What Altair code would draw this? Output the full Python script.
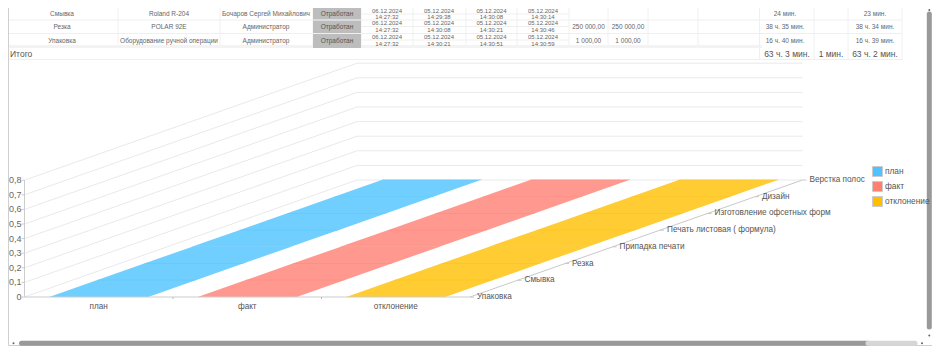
import altair as alt
import pandas as pd

# ---------- chart values ----------
series_names = ["план", "факт", "отклонение"]
series_fill = ["#4DC3FF", "#FF7F73", "#FFBF00"]
categories = ["Упаковка", "Смывка", "Резка", "Припадка печати",
              "Печать листовая ( формула)", "Изготовление офсетных форм",
              "Дизайн", "Верстка полос"]
plan_values = [0, 0, 0, 0, 0, 0, 0, 0]
fact_values = [0, 0, 0, 0, 0, 0, 0, 0]
dev_values = [0, 0, 0, 0, 0, 0, 0, 0]
value_ticks = [0, 0.1, 0.2, 0.3, 0.4, 0.5, 0.6, 0.7, 0.8]

# ---------- table values ----------
row_stage = ["Смывка", "Резка", "Упаковка"]
row_machine = ["Roland R-204", "POLAR 92E", "Оборудование ручной операции"]
row_person = ["Бочаров Сергей Михайлович", "Администратор", "Администратор"]
row_status = ["Отработан", "Отработан", "Отработан"]
date_1 = ["06.12.2024", "06.12.2024", "06.12.2024"]
time_1 = ["14:27:32", "14:27:32", "14:27:32"]
date_2 = ["05.12.2024", "05.12.2024", "05.12.2024"]
time_2 = ["14:29:38", "14:30:08", "14:30:21"]
date_3 = ["05.12.2024", "05.12.2024", "05.12.2024"]
time_3 = ["14:30:08", "14:30:21", "14:30:51"]
date_4 = ["05.12.2024", "05.12.2024", "05.12.2024"]
time_4 = ["14:30:14", "14:30:46", "14:30:59"]
money_1 = ["", "250 000,00", "1 000,00"]
money_2 = ["", "250 000,00", "1 000,00"]
plan_time = ["24 мин.", "38 ч. 35 мин.", "16 ч. 40 мин."]
fact_time = ["23 мин.", "38 ч. 34 мин.", "16 ч. 39 мин."]
total_label = "Итого"
total_plan, total_dev, total_fact = "63 ч. 3 мин.", "1 мин.", "63 ч. 2 мин."

FONT = "Liberation Sans"
W, H = 924, 338
ORIGIN_X, WALL_W, DEPTH_X, DEPTH_Y, VALUE_PX, BASE_Y = 24.5, 445.5, 332.5, 117, 146, 297


def project(fx, d, v=0.0):
    """Oblique projection of (share of width, share of depth, value)."""
    return ORIGIN_X + fx * WALL_W + d * DEPTH_X, BASE_Y - d * DEPTH_Y - v * VALUE_PX


X = alt.X("x:Q", scale=alt.Scale(domain=[8, 8 + W], range=[0, W]), axis=None)
Y = alt.Y("y:Q", scale=alt.Scale(domain=[8, 8 + H], range=[0, H]), axis=None)

# ---------- rules ----------
rules = []


def rule(x1, y1, x2, y2, c, w=1.0):
    rules.append(dict(x=x1, y=y1, x_end=x2, y_end=y2, c=c, w=w))


col_edges = [118, 220, 313, 361, 413, 466, 517, 569, 608, 648, 698, 759.5, 814, 848, 902]
for y_line in [20, 33.5, 59.5]:
    rule(8.5, y_line, 902, y_line, "#efefef")
rule(8.5, 46.5, 762, 46.5, "#f3f3f3", 3)
for ce in col_edges:
    rule(ce, 8, ce, 59.5 if ce >= 759 else 45, "#f0f0f0")
for y_line in [14, 26.5, 40]:
    rule(361, y_line, 569, y_line, "#efefef")

# frame
rule(8.5, 8, 8.5, 345.5, "#cfcfcf", 1)
rule(8.5, 345.5, 932, 345.5, "#cfcfcf", 1)

# walls
for v in value_ticks:
    a, b, c = project(0, 0, v), project(0, 1, v), project(1, 1, v)
    rule(*a, *b, "#e9e9e9")
    rule(*b, *c, "#e9e9e9")
    rule(a[0] - 3, a[1], a[0], a[1], "#cccccc")

rules_back = pd.DataFrame(rules)
rules = []

# axis lines
rule(*project(0, 0), *project(1, 0), "#cccccc")
rule(*project(1, 0), *project(1, 1), "#c8c8c8")
rule(*project(0, 0), *project(0, 0, 0.8), "#cccccc")
for f in [1 / 3, 2 / 3]:
    p = project(f, 0)
    rule(p[0], p[1], p[0], p[1] + 2, "#bbbbbb")
for k in range(8):
    p = project(1, k / 7)
    rule(p[0], p[1], p[0] + 4, p[1], "#c8c8c8")
rules_front = pd.DataFrame(rules)


def rule_layer(df):
    return alt.Chart(df).mark_rule().encode(
        x=X, y=Y, x2="x_end:Q", y2="y_end:Q",
        color=alt.Color("c:N", scale=None),
        strokeWidth=alt.StrokeWidth("w:Q", scale=None),
    )


# ---------- status cells ----------
status_rows = [(8, 19.5), (20.5, 33), (34, 48)]
status_df = pd.DataFrame([dict(x=313, x_end=361, y=a, y_end=b) for a, b in status_rows])
status_layer = alt.Chart(status_df).mark_rect(color="#bdbdbd").encode(x=X, x2="x_end:Q", y=Y, y2="y_end:Q")

# ---------- surfaces ----------
surf = []
all_values = [plan_values, fact_values, dev_values]
SLOT, GAP, BAR = 1 / 3, 24.7 / 445.5, 99 / 445.5
for si, name in enumerate(series_names):
    for k in range(len(categories) - 1):
        for d, val in [(k / 7, all_values[si][k]), ((k + 1) / 7 + 0.004, all_values[si][k + 1])]:
            xa, ya = project(si * SLOT + GAP, d, val)
            xb, _ = project(si * SLOT + GAP + BAR, d, val)
            surf.append(dict(series=name, seg=f"{si}-{k}", x=xa, x_end=xb, y=ya))
surf_df = pd.DataFrame(surf)
surf_layer = alt.Chart(surf_df).mark_area(orient="horizontal", opacity=0.8).encode(
    y=Y,
    x=alt.X("x:Q", scale=alt.Scale(domain=[8, 8 + W], range=[0, W]), axis=None, stack=None),
    x2="x_end:Q",
    detail="seg:N",
    color=alt.Color(
        "series:N",
        sort=series_names,
        scale=alt.Scale(domain=series_names, range=series_fill),
        legend=alt.Legend(
            orient="none", legendX=864, legendY=158, title=None,
            symbolType="square", symbolSize=100, symbolOpacity=1,
            symbolStrokeColor="#cccccc", symbolStrokeWidth=1,
            labelFont=FONT, labelFontSize=8.3, labelColor="#555555",
            labelOffset=2, rowPadding=0, padding=0,
        ),
    ),
)

# ---------- texts ----------
texts = []


def put(x, y, t, s, c="#666666", align="center"):
    if t:
        texts.append(dict(x=x, y=y, t=t, s=s, c=c, a=align))


CELL = 6.5
DATE = 6
row_y = [14, 26.7, 40.5]
date_y = [(11.2, 17), (23.4, 30), (36.8, 43.8)]
for i in range(3):
    put(62, row_y[i], row_stage[i], CELL)
    put(169, row_y[i], row_machine[i], CELL)
    put(266, row_y[i], row_person[i], CELL)
    put(337, row_y[i], row_status[i], CELL, "#555555")
    for cx, dd, tt in [(387, date_1, time_1), (439, date_2, time_2),
                       (491.5, date_3, time_3), (543, date_4, time_4)]:
        put(cx, date_y[i][0], dd[i], DATE)
        put(cx, date_y[i][1], tt[i], DATE)
    put(588.5, row_y[i], money_1[i], CELL)
    put(628, row_y[i], money_2[i], CELL)
    put(785, row_y[i], plan_time[i], CELL)
    put(875, row_y[i], fact_time[i], CELL)
put(787, 54, total_plan, 8.5, "#555555")
put(831, 54, total_dev, 8.5, "#555555")
put(875, 54, total_fact, 8.5, "#555555")
put(10, 54, total_label, 8.5, "#555555", "left")

for v in value_ticks:
    p = project(0, 0, v)
    put(21.5, p[1], f"{v:g}".replace(".", ","), 9, "#666666", "right")
for si, name in enumerate(series_names):
    p = project((si + 0.5) * SLOT, 0)
    put(p[0], 306.5, name, 8.2, "#555555")
for k, name in enumerate(categories):
    p = project(1, k / 7)
    put(p[0] + 7, p[1], name, 8.2, "#555555", "left")

text_df = pd.DataFrame(texts)


def text_layer(align):
    return alt.Chart(text_df[text_df.a == align]).mark_text(
        font=FONT, align=align, baseline="middle"
    ).encode(
        x=X, y=Y, text="t:N",
        size=alt.Size("s:Q", scale=None),
        color=alt.Color("c:N", scale=None),
    )


# ---------- scrollbars ----------
bars = pd.DataFrame([
    dict(x=21.5, x_end=868, y=343.3, y_end=343.3, c="#999999"),
    dict(x=868, x_end=915, y=343.3, y_end=343.3, c="#d6d6d6"),
    dict(x=929.3, x_end=929.3, y=14, y_end=327, c="#999999"),
])
bar_layer = alt.Chart(bars).mark_rule(strokeWidth=5, strokeCap="round").encode(
    x=X, y=Y, x2="x_end:Q", y2="y_end:Q", color=alt.Color("c:N", scale=None)
)
dots = pd.DataFrame([dict(x=13.5, y=343.3), dict(x=922, y=343.3), dict(x=929.3, y=335.5), dict(x=929.3, y=10)])
dot_layer = alt.Chart(dots).mark_point(filled=True, size=4, color="#666666", opacity=1).encode(x=X, y=Y)

chart = alt.layer(
    rule_layer(rules_back),
    status_layer,
    surf_layer,
    rule_layer(rules_front),
    bar_layer,
    dot_layer,
    text_layer("center"),
    text_layer("left"),
    text_layer("right"),
).resolve_scale(color="independent").properties(
    width=W, height=H, padding=0, autosize=alt.AutoSizeParams(type="none"),
).configure_view(stroke=None)

chart.save("out.html", embed_options={"renderer": "svg", "actions": False})
